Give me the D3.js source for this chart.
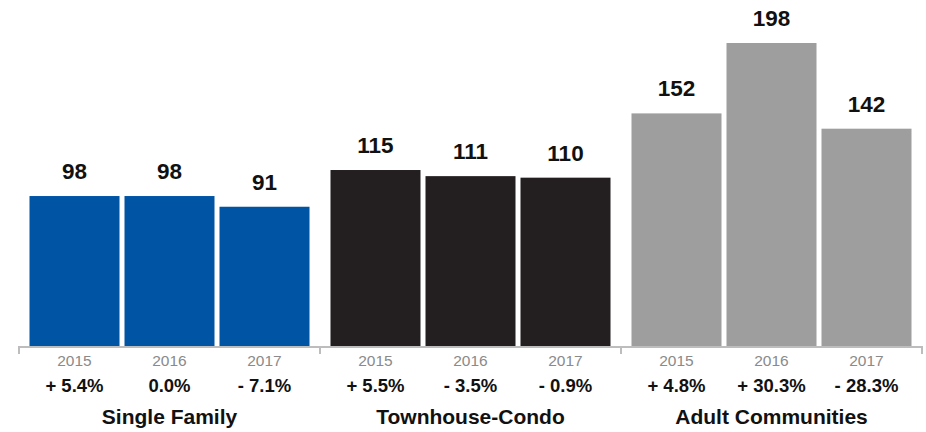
<!DOCTYPE html>
<html>
<head>
<meta charset="utf-8">
<script src="https://cdn.jsdelivr.net/npm/d3@7"></script>
<style>
  html, body { margin: 0; padding: 0; background: #fff; }
  svg { display: block; }
  text { font-family: "Liberation Sans", Arial, Helvetica, sans-serif; }
</style>
</head>
<body>
<svg id="chart" width="926" height="432"></svg>
<script>
// Home sales by segment, 2015–2017
const groups = ["Single Family", "Townhouse-Condo", "Adult Communities"];
const years = ["2015", "2016", "2017"];
const singleFamily = [98, 98, 91];
const townhouseCondo = [115, 111, 110];
const adultCommunities = [152, 198, 142];
const singleFamilyChange = ["+ 5.4%", "0.0%", "- 7.1%"];
const townhouseCondoChange = ["+ 5.5%", "- 3.5%", "- 0.9%"];
const adultCommunitiesChange = ["+ 4.8%", "+ 30.3%", "- 28.3%"];
const groupColors = ["#0054a4", "#231f20", "#9e9e9e"];

const seriesValues = [singleFamily, townhouseCondo, adultCommunities];
const seriesChange = [singleFamilyChange, townhouseCondoChange, adultCommunitiesChange];

const svg = d3.select("#chart");
const axisY = 346;

const x0 = d3.scaleBand().domain(groups).range([19, 922]).padding(0);
const x1 = d3.scaleBand().domain(years).range([0, x0.bandwidth()])
  .paddingInner(5 / 95).paddingOuter(0.1105);
const y = d3.scaleLinear().domain([0, 198]).range([axisY, 43]);

const g = svg.selectAll("g.group")
  .data(groups.map((name, i) => ({
    name, color: groupColors[i],
    bars: years.map((yr, j) => ({ yr, value: seriesValues[i][j], change: seriesChange[i][j] }))
  })))
  .join("g")
  .attr("class", "group")
  .attr("transform", d => `translate(${x0(d.name)},0)`);

// bars
g.selectAll("rect")
  .data(d => d.bars.map(b => ({ ...b, color: d.color })))
  .join("rect")
  .attr("x", d => x1(d.yr))
  .attr("y", d => y(d.value))
  .attr("width", x1.bandwidth())
  .attr("height", d => axisY - y(d.value))
  .attr("fill", d => d.color);

// value labels above bars
g.selectAll("text.value")
  .data(d => d.bars)
  .join("text")
  .attr("class", "value")
  .attr("x", d => x1(d.yr) + x1.bandwidth() / 2)
  .attr("y", d => y(d.value) - 17)
  .attr("text-anchor", "middle")
  .attr("font-size", 22.5)
  .attr("font-weight", "bold")
  .attr("fill", "#111")
  .text(d => d.value);

// year tick labels
g.selectAll("text.year")
  .data(d => d.bars)
  .join("text")
  .attr("class", "year")
  .attr("x", d => x1(d.yr) + x1.bandwidth() / 2)
  .attr("y", 366)
  .attr("text-anchor", "middle")
  .attr("font-size", 15.5)
  .attr("fill", "#8a8a8a")
  .text(d => d.yr);

// year-over-year change
g.selectAll("text.change")
  .data(d => d.bars)
  .join("text")
  .attr("class", "change")
  .attr("x", d => x1(d.yr) + x1.bandwidth() / 2)
  .attr("y", 392)
  .attr("text-anchor", "middle")
  .attr("font-size", 18.5)
  .attr("font-weight", "bold")
  .attr("fill", "#111")
  .text(d => d.change);

// segment names
g.append("text")
  .attr("x", x0.bandwidth() / 2)
  .attr("y", 424)
  .attr("text-anchor", "middle")
  .attr("font-size", 21)
  .attr("font-weight", "bold")
  .attr("fill", "#111")
  .text(d => d.name);

// baseline with group-boundary ticks
svg.append("line")
  .attr("x1", x0.range()[0]).attr("x2", x0.range()[1])
  .attr("y1", axisY + 1).attr("y2", axisY + 1)
  .attr("stroke", "#bdbdbd").attr("stroke-width", 2);
const boundaries = groups.map(d => x0(d)).concat([x0.range()[1]]);
svg.selectAll("line.tick")
  .data(boundaries)
  .join("line")
  .attr("class", "tick")
  .attr("x1", d => d).attr("x2", d => d)
  .attr("y1", axisY).attr("y2", axisY + 8)
  .attr("stroke", "#bdbdbd").attr("stroke-width", 2);
</script>
</body>
</html>
